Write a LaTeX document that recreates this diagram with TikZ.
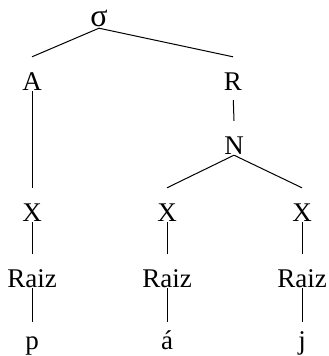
\documentclass[tikz,border=0pt]{standalone}
\usepackage{fontspec}
\setmainfont{Liberation Serif}
\begin{document}
\begin{tikzpicture}[x=1pt,y=-1pt,font=\fontsize{27}{32}\selectfont,
 seg/.style={anchor=base,inner sep=0pt,text height=33pt,text depth=1pt},
 leaf/.style={seg,text height=27pt},
 branch/.style={line width=1pt,black}]
\useasboundingbox (0,0) rectangle (329,356);
\node[seg,font=\fontsize{32}{36}\selectfont] (syl) at (99,27) {σ};
\node[seg] (onset) at (32,90) {A};
\node[seg] (rime) at (233,90) {R};
\node[seg] (nuc) at (234,154) {N};
\foreach \n/\x/\s in {a/32/p,b/167/á,c/302/j} {
  \node[seg] (x\n) at (\x,221) {X};
  \node[seg] (root\n) at (\x,287) {Raiz};
  \node[leaf] (seg\n) at (\x,349) {\s};
  \draw[branch] (x\n.south) -- (root\n.north);
  \draw[branch] (root\n.south) -- (seg\n.north);
}
\draw[branch] (syl.south) -- (onset.north);
\draw[branch] (syl.south) -- (rime.north);
\draw[branch] (onset.south) -- (xa.north);
\draw[branch,shorten <=9pt] (rime.south) -- (nuc.north);
\draw[branch] (nuc.south) -- (xb.north);
\draw[branch] (nuc.south) -- (xc.north);
\end{tikzpicture}
\end{document}
